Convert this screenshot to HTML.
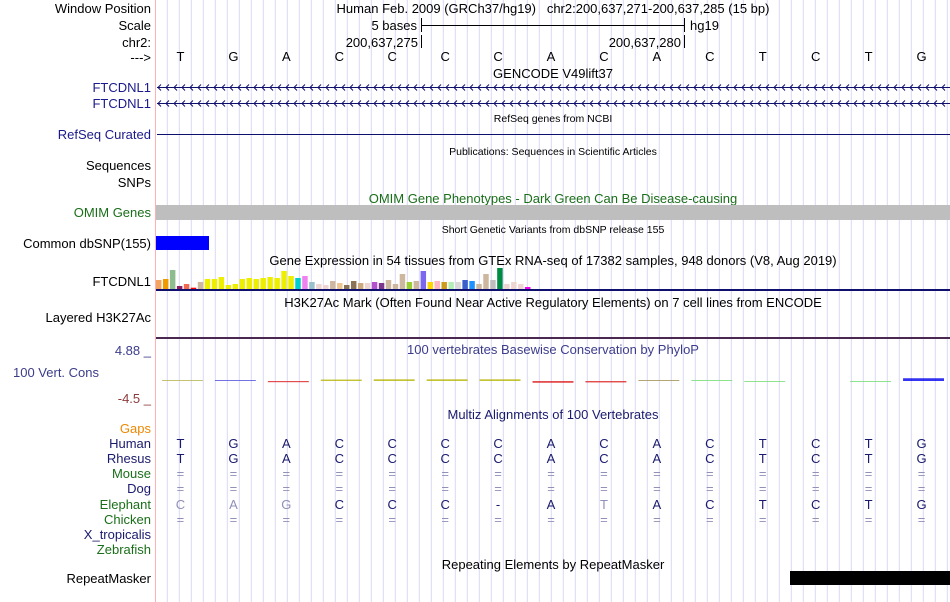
<!DOCTYPE html>
<html><head><meta charset="utf-8"><style>
html,body{margin:0;padding:0;background:#fff;}
svg{display:block;font-family:"Liberation Sans",sans-serif;}
</style></head><body>
<svg id="s" width="950" height="602" viewBox="0 0 950 602" xmlns="http://www.w3.org/2000/svg">
<g id="grid"></g>
<line x1="155.5" y1="0" x2="155.5" y2="602" stroke="#ffb0b0"/>
<g font-size="13" fill="#000" text-anchor="end">
<text x="151" y="13">Window Position</text>
<text x="151" y="30">Scale</text>
<text x="151" y="47">chr2:</text>
<text x="151" y="62">---&gt;</text>
<text x="151" y="92" fill="#1a1a8c">FTCDNL1</text>
<text x="151" y="108" fill="#1a1a8c">FTCDNL1</text>
<text x="151" y="139" fill="#1a1a8c">RefSeq Curated</text>
<text x="151" y="170">Sequences</text>
<text x="151" y="187">SNPs</text>
<text x="151" y="217" fill="#1a6e1a">OMIM Genes</text>
<text x="151" y="248">Common dbSNP(155)</text>
<text x="151" y="286">FTCDNL1</text>
<text x="151" y="322">Layered H3K27Ac</text>
<text x="151" y="355" fill="#3c3c8c">4.88 _</text>
<text x="151" y="403" fill="#8c3c3c">-4.5 _</text>
<text x="151" y="433" fill="#ee8800">Gaps</text>
<text x="151" y="448" fill="#1a1a6e">Human</text>
<text x="151" y="463" fill="#1a1a6e">Rhesus</text>
<text x="151" y="478" fill="#1a6e1a">Mouse</text>
<text x="151" y="493" fill="#1a1a6e">Dog</text>
<text x="151" y="509" fill="#1a6e1a">Elephant</text>
<text x="151" y="524" fill="#1a6e1a">Chicken</text>
<text x="151" y="539" fill="#1a1a6e">X_tropicalis</text>
<text x="151" y="554" fill="#1a6e1a">Zebrafish</text>
<text x="151" y="583">RepeatMasker</text>
</g>
<text x="13" y="377" font-size="13" fill="#3c3c8c">100 Vert. Cons</text>
<g font-size="13" text-anchor="middle">
<text x="553" y="13" xml:space="preserve">Human Feb. 2009 (GRCh37/hg19)   chr2:200,637,271-200,637,285 (15 bp)</text>
<text x="553" y="78">GENCODE V49lift37</text>
<text x="553" y="122" font-size="10.5">RefSeq genes from NCBI</text>
<text x="553" y="155" font-size="10.5">Publications: Sequences in Scientific Articles</text>
<text x="553" y="203" fill="#1a6e1a">OMIM Gene Phenotypes - Dark Green Can Be Disease-causing</text>
<text x="553" y="233" font-size="10.5">Short Genetic Variants from dbSNP release 155</text>
<text x="553" y="265">Gene Expression in 54 tissues from GTEx RNA-seq of 17382 samples, 948 donors (V8, Aug 2019)</text>
<text x="553" y="307">H3K27Ac Mark (Often Found Near Active Regulatory Elements) on 7 cell lines from ENCODE</text>
<text x="553" y="354" fill="#3c3c8c">100 vertebrates Basewise Conservation by PhyloP</text>
<text x="553" y="419" fill="#1a1a6e">Multiz Alignments of 100 Vertebrates</text>
<text x="553" y="569">Repeating Elements by RepeatMasker</text>
</g>
<g font-size="13">
<text x="417" y="30" text-anchor="end">5 bases</text>
<line x1="421.5" y1="18" x2="421.5" y2="32" stroke="#000"/>
<line x1="421" y1="25.5" x2="685" y2="25.5" stroke="#000"/>
<line x1="684.5" y1="18" x2="684.5" y2="32" stroke="#000"/>
<text x="690" y="30">hg19</text>
<text x="418" y="47" text-anchor="end">200,637,275</text>
<line x1="421.5" y1="35" x2="421.5" y2="48" stroke="#000"/>
<text x="681" y="47" text-anchor="end">200,637,280</text>
<line x1="684.5" y1="35" x2="684.5" y2="48" stroke="#000"/>
</g>
<g id="bases" font-size="13" text-anchor="middle"></g>
<g id="genes"></g>
<rect x="156" y="205" width="794" height="15" fill="#bebebe"/>
<rect x="156" y="236" width="53" height="14" fill="#0000ff"/>
<g id="gtex"></g>
<rect x="156" y="289" width="794" height="2" fill="#0f0f6e"/>
<rect x="156" y="337" width="794" height="2" fill="#4a2850"/>
<g id="cons"></g>
<g id="multiz" font-size="13" text-anchor="middle"></g>
<rect x="790" y="571" width="160" height="14" fill="#000"/>
</svg>
<script>
const NS="http://www.w3.org/2000/svg";
const bases=["T","G","A","C","C","C","C","A","C","A","C","T","C","T","G"];
const elephant=["C","A","G","C","C","C","-","A","T","A","C","T","C","T","G"];
const elephantMatch=[0,0,0,1,1,1,1,1,0,1,1,1,1,1,1];
const gtexVals=[9,10,19,3,5,1.3,7,10,10,12,4,5,10,11,10,11,12,11,18,13,11,13,7,5,4,8,6,4,8,6,6,7,6,9,5,15,7,8,18,7,8,7,7,7,9,8,5,15,9,21,5,7,5,2];
const gtexColors=["#f4a460","#ee9a00","#8fbc8f","#8b1c62","#ee6a50","#ff0000","#cdb79e","#eeee00","#eeee00","#eeee00","#eeee00","#eeee00","#eeee00","#eeee00","#eeee00","#eeee00","#eeee00","#eeee00","#eeee00","#eeee00","#00cdcd","#ee82ee","#9ac0cd","#eed5d2","#eed5d2","#cdb79e","#eec591","#8b7355","#8b7355","#cdaa7d","#eed5d2","#b452cd","#7a378b","#cdb79e","#cdb79e","#cdb79e","#9acd32","#cdb79e","#7b68ee","#ffd700","#ffb6c1","#cd9b1d","#b4eeb4","#d9d9d9","#3a5fcd","#1e90ff","#cdb79e","#cdb79e","#bebebe","#008b45","#eed5d2","#eed5d2","#eed5d2","#ee00ee"];
const consVals=[0.3,0.4,-1.0,1.2,1.4,1.4,1.4,-1.5,-1.2,0.6,0.5,-0.3,0,-0.4,2.3];
const consColors=["#b4b450","#5050dd","#dd2020","#b4b400","#b4b400","#b4b400","#b4b400","#dd2020","#dd2020","#a09050","#70dd70","#70dd70","#fff","#70dd70","#0000ee"];
const s=document.getElementById('s');
function el(tag,attrs,parent){const e=document.createElementNS(NS,tag);for(const k in attrs)e.setAttribute(k,attrs[k]);parent.appendChild(e);return e;}
const x0=156,bw=794/15;
function bx(i){return x0+bw*(i+0.5)-2;}
const grid=document.getElementById('grid');
for(let gx=167.3;gx<949;gx+=12){const l=el('line',{x1:gx,y1:0,x2:gx,y2:602,stroke:'#d8d8f4'},grid);

}
const bg=document.getElementById('bases');
bases.forEach((b,i)=>{const t=el('text',{x:bx(i),y:61},bg);t.textContent=b;

});
const genes=document.getElementById('genes');
[87,103].forEach((y,k)=>{const g=el('g',{},genes);


el('line',{x1:157,y1:y+0.5,x2:950,y2:y+0.5,stroke:'#0f0f6e'},g);
let d='';for(let ax=158;ax<950;ax+=8){d+=`M${ax+3} ${y-2.5}L${ax} ${y+0.5}L${ax+3} ${y+3.5}`;}
el('path',{d:d,stroke:'#0f0f6e',fill:'none','stroke-width':1},g);});
const rl=el('line',{x1:157,y1:134.5,x2:950,y2:134.5,stroke:'#0f0f6e'},genes);


const gt=document.getElementById('gtex');
const gBase=289,gScale=1,gPitch=376/54;
gtexVals.forEach((v,i)=>{const r=el('rect',{x:156+i*gPitch,y:gBase-v*gScale,width:gPitch-1.5,height:v*gScale,fill:gtexColors[i]},gt);

});
const cg=document.getElementById('cons');
const cMid=381,cScale=1.2;
consVals.forEach((v,i)=>{if(v===0)return;const h=Math.max(1,Math.abs(v)*cScale);
const r=el('rect',{x:x0+bw*i+6,y:v>0?cMid-h:cMid,width:bw-12,height:h,fill:consColors[i],opacity:0.8},cg);

});
const mz=document.getElementById('multiz');
const rows=[[448,'h'],[463,'h'],[478,'='],[493,'='],[509,'e'],[524,'=']];
rows.forEach(([y,type],r)=>{bases.forEach((b,i)=>{let txt=b,fill='#1a1a6e';
if(type==='=' ){txt='=';fill='#9090b8';}
if(type==='e'){txt=elephant[i];fill=elephantMatch[i]?'#1a1a6e':'#9090b8';}
const t=el('text',{x:bx(i),y:y,fill:fill},mz);t.textContent=txt;

});});
</script>
</body></html>
